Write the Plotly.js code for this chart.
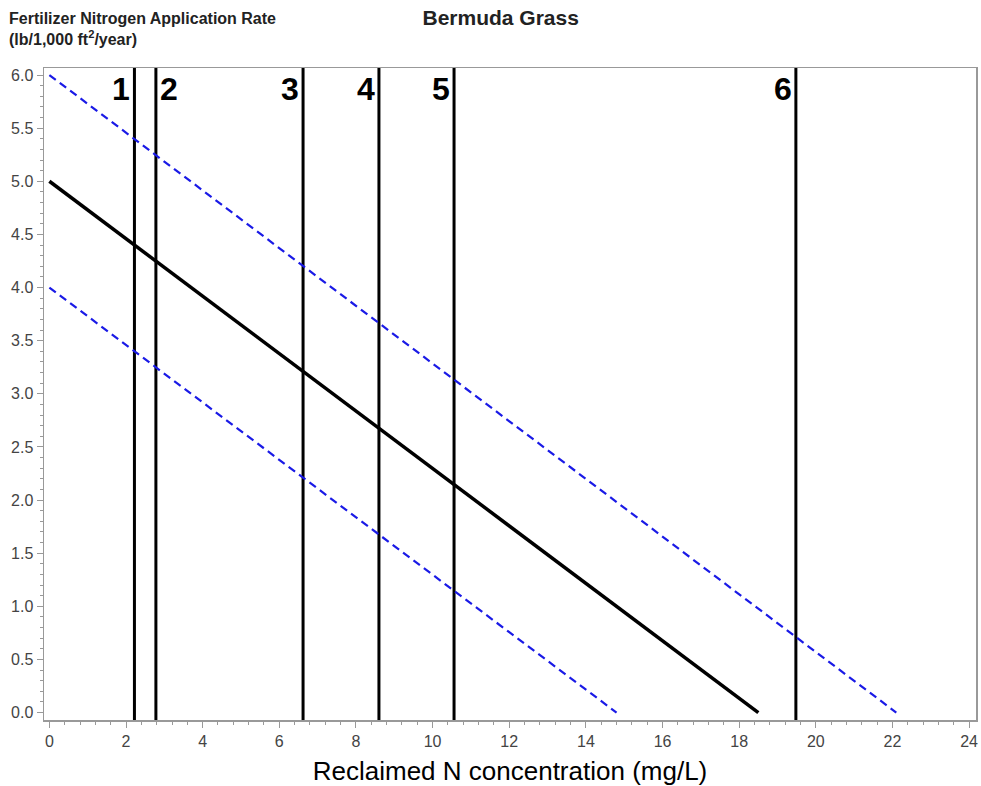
<!DOCTYPE html>
<html><head><meta charset="utf-8">
<script src="https://cdn.plot.ly/plotly-3.0.1.min.js"></script>
<style>body{margin:0;background:#fff}#chart{width:981px;height:786px}</style>
</head><body><div id="chart"></div>
<script>
// Data
const mainX = [0, 18.5];
const mainY = [5, 0];
const upperX = [0, 22.1];
const upperY = [6, 0];
const lowerX = [0, 14.8];
const lowerY = [4, 0];
const zoneLabels = ["1", "2", "3", "4", "5", "6"];
const zoneX = [2.22, 2.78, 6.62, 8.6, 10.56, 19.48];
const labelSide = ["left", "right", "left", "left", "left", "left"];
const xTicks = [0, 2, 4, 6, 8, 10, 12, 14, 16, 18, 20, 22, 24];
const yTicks = [0, 0.5, 1, 1.5, 2, 2.5, 3, 3.5, 4, 4.5, 5, 5.5, 6];

const FONT = 'Liberation Sans, Arial, sans-serif';
const traces = [];
zoneX.forEach(x => traces.push({
  x: [x, x], y: [-0.07, 6.07], mode: 'lines',
  line: {color: '#000', width: 3}, showlegend: false, hoverinfo: 'skip'
}));
traces.push({x: upperX, y: upperY, mode: 'lines', line: {color: '#1a1ae6', width: 2.2, dash: '8px,5px'}, showlegend: false});
traces.push({x: lowerX, y: lowerY, mode: 'lines', line: {color: '#1a1ae6', width: 2.2, dash: '8px,5px'}, showlegend: false});
traces.push({x: mainX, y: mainY, mode: 'lines', line: {color: '#000', width: 3.5}, showlegend: false});

const annotations = zoneLabels.map((t, i) => ({
  x: zoneX[i], y: 5.87, xref: 'x', yref: 'y', text: '<b>' + t + '</b>',
  showarrow: false, xanchor: labelSide[i] === 'left' ? 'right' : 'left', yanchor: 'middle',
  xshift: labelSide[i] === 'left' ? -2 : 2,
  font: {family: FONT, size: 32, color: '#000'}
}));
annotations.push({
  xref: 'paper', yref: 'paper', x: 0, y: 1, xshift: -37, yshift: 60, xanchor: 'left', yanchor: 'top', align: 'left',
  showarrow: false, text: '<b>Fertilizer Nitrogen Application Rate<br>(lb/1,000 ft<sup>2</sup>/year)</b>',
  font: {family: FONT, size: 16, color: '#222'}
});

const layout = {
  width: 981, height: 786,
  margin: {l: 44, r: 5, t: 68, b: 66},
  paper_bgcolor: '#fff', plot_bgcolor: '#fff',
  font: {family: FONT, color: '#333'},
  title: {text: '<b>Bermuda Grass</b>', x: 0.49, xref: 'paper', xanchor: 'center', y: 0.977, yanchor: 'middle',
          font: {size: 21, color: '#222', family: FONT}},
  xaxis: {
    range: [-0.14, 24.18], tickvals: xTicks, ticktext: xTicks.map(String),
    showgrid: false, zeroline: false, showline: true, mirror: true, linecolor: '#999', linewidth: 1.5,
    ticks: 'outside', ticklen: 6, tickcolor: '#999', tickwidth: 1,
    minor: {dtick: 0.4, tick0: 0, ticks: 'outside', ticklen: 3, tickcolor: '#999', showgrid: false},
    tickfont: {size: 16, color: '#444'},
    title: {text: 'Reclaimed N concentration (mg/L)', font: {size: 26, color: '#000'}, standoff: 14}
  },
  yaxis: {
    range: [-0.07, 6.066], tickvals: yTicks, ticktext: yTicks.map(v => v.toFixed(1)),
    showgrid: false, zeroline: false, showline: true, mirror: true, linecolor: '#999', linewidth: 1.5,
    ticks: 'outside', ticklen: 6, tickcolor: '#999', tickwidth: 1,
    minor: {dtick: 0.1, tick0: 0, ticks: 'outside', ticklen: 3, tickcolor: '#999', showgrid: false},
    tickfont: {size: 16, color: '#444'}
  },
  annotations: annotations
};
Plotly.newPlot('chart', traces, layout, {displayModeBar: false, staticPlot: true});
</script></body></html>
